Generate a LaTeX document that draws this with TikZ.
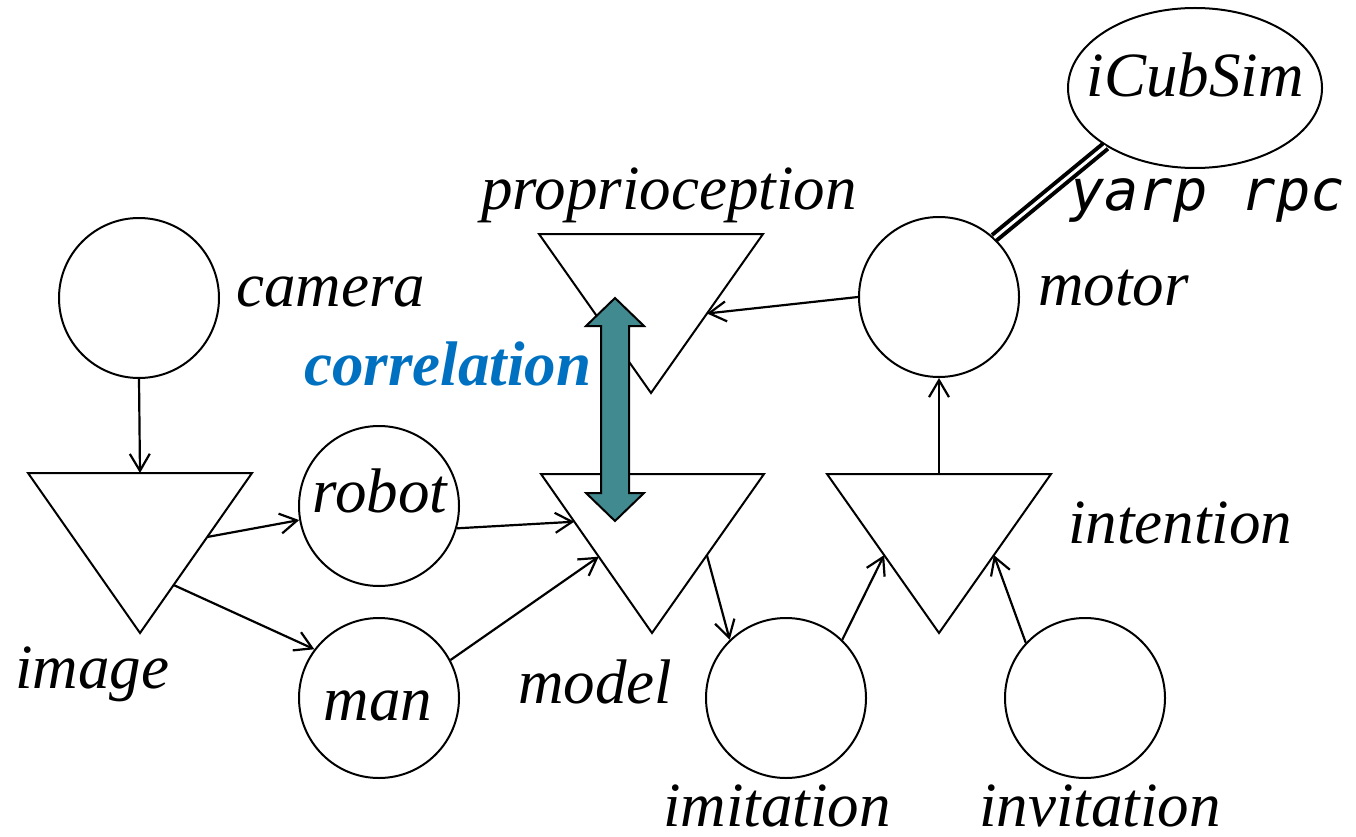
\documentclass[tikz,border=0pt]{standalone}
\usepackage{fontspec}
\setmainfont{Liberation Serif}
\newfontfamily\rpcfont{DejaVu Sans Mono}
\usetikzlibrary{arrows.meta,shapes.geometric,calc}
\definecolor{corrblue}{HTML}{0070C0}
\definecolor{corrteal}{HTML}{418A8F}

\begin{document}
\begin{tikzpicture}[x=1pt,y=-1pt,
  unit/.style={circle,draw,line width=2pt,minimum size=160pt,inner sep=0pt},
  tri/.style={draw,line width=2pt,line join=miter},
  link/.style={line width=2.2pt,-{Straight Barb[length=17pt,width=20pt]}},
  lbl/.style={font=\fontsize{63}{70}\selectfont\itshape,inner sep=0pt},
  corrlbl/.style={font=\fontsize{63}{70}\selectfont\bfseries\itshape,inner sep=0pt,text=corrblue},
  rpclbl/.style={font=\rpcfont\fontsize{57}{62}\selectfont\itshape,inner sep=0pt},
  rpclink/.style={line width=4pt,double,double distance=3pt}
]
\useasboundingbox (0,0) rectangle (1356,837);

% circular units
\node[unit] (camera) at (139,298) {};
\node[unit] (robot) at (379,506) {};
\node[unit] (man) at (379,698) {};
\node[unit] (motor) at (939,297) {};
\node[unit] (imitation) at (786,698) {};
\node[unit] (invitation) at (1085,698) {};
\node[ellipse,draw,line width=2pt,minimum width=254pt,minimum height=160pt,inner sep=0pt] (icub) at (1195,88) {};

% triangular units (top-left, top-right, bottom corner)
\coordinate (imgL) at (28,473);  \coordinate (imgR) at (252,473);  \coordinate (imgB) at (140,633);
\coordinate (modL) at (541,474); \coordinate (modR) at (764,474); \coordinate (modB) at (652,633);
\coordinate (proL) at (539,234); \coordinate (proR) at (763,234); \coordinate (proB) at (651,393);
\coordinate (intL) at (827,474); \coordinate (intR) at (1051,474); \coordinate (intB) at (939,633);
\draw[tri] (imgL) -- (imgR) -- (imgB) -- cycle;
\draw[tri] (modL) -- (modR) -- (modB) -- cycle;
\draw[tri] (proL) -- (proR) -- (proB) -- cycle;
\draw[tri] (intL) -- (intR) -- (intB) -- cycle;

% attachment points on the triangle edges
\coordinate (imgTop) at ($(imgL)!0.5!(imgR)$);
\coordinate (imgToRobot) at ($(imgR)!0.4!(imgB)$);
\coordinate (imgToMan) at ($(imgR)!0.7!(imgB)$);
\coordinate (modFromRobot) at ($(modL)!0.3!(modB)$);
\coordinate (modFromMan) at ($(modL)!0.52!(modB)$);
\coordinate (modToImit) at ($(modR)!0.51!(modB)$);
\coordinate (intFromImit) at ($(intL)!0.51!(intB)$);
\coordinate (intFromInvit) at ($(intR)!0.51!(intB)$);
\coordinate (intTop) at ($(intL)!0.5!(intR)$);
\coordinate (proFromMotor) at ($(proR)!0.5!(proB)$);

% connectors
\draw[link] (camera.south) -- (imgTop);
\draw[link] (imgToRobot) -- (robot.190);
\draw[link] (imgToMan) -- (man.143);
\draw[link] (robot.-16) -- (modFromRobot);
\draw[link] (man.28) -- (modFromMan);
\draw[link] (modToImit) -- (imitation.134);
\draw[link] (imitation.46) -- (intFromImit);
\draw[link] (invitation.137) -- (intFromInvit);
\draw[link] (intTop) -- (motor.south);
\draw[link] (motor.west) -- (proFromMotor);
\draw[rpclink] (motor.47) -- (icub.213);

% correlation block arrow
\draw[line width=2pt,line join=miter,fill=corrteal]
  (615,298) -- (644,326) -- (629,326) -- (629,493) -- (644,493) -- (615,521)
  -- (586,493) -- (601,493) -- (601,326) -- (586,326) -- cycle;

% labels
\node[lbl,anchor=base west] (cameraL) at (236,306) {camera};
\node[lbl,anchor=base west] (proL) at (481,209) {proprioception};
\node[corrlbl,anchor=base west] (corrL) at (304,385) {correlation};
\node[lbl,anchor=base west] (motorL) at (1038,305) {motor};
\node[lbl,anchor=base] (icubL) at (1195,97) {iCubSim};
\node[rpclbl,anchor=base west] (rpcL) at (1070,211) {yarp rpc};
\node[lbl,anchor=base] (robotL) at (380,512) {robot};
\node[lbl,anchor=base] (manL) at (378,720) {man};
\node[lbl,anchor=base west] (imageL) at (15,688) {image};
\node[lbl,anchor=base west] (modelL) at (518,703) {model};
\node[lbl,anchor=base west] (intentionL) at (1068,543) {intention};
\node[lbl,anchor=base west] (imitationL) at (663,826) {imitation};
\node[lbl,anchor=base west] (invitationL) at (979,826) {invitation};
\end{tikzpicture}
\end{document}
